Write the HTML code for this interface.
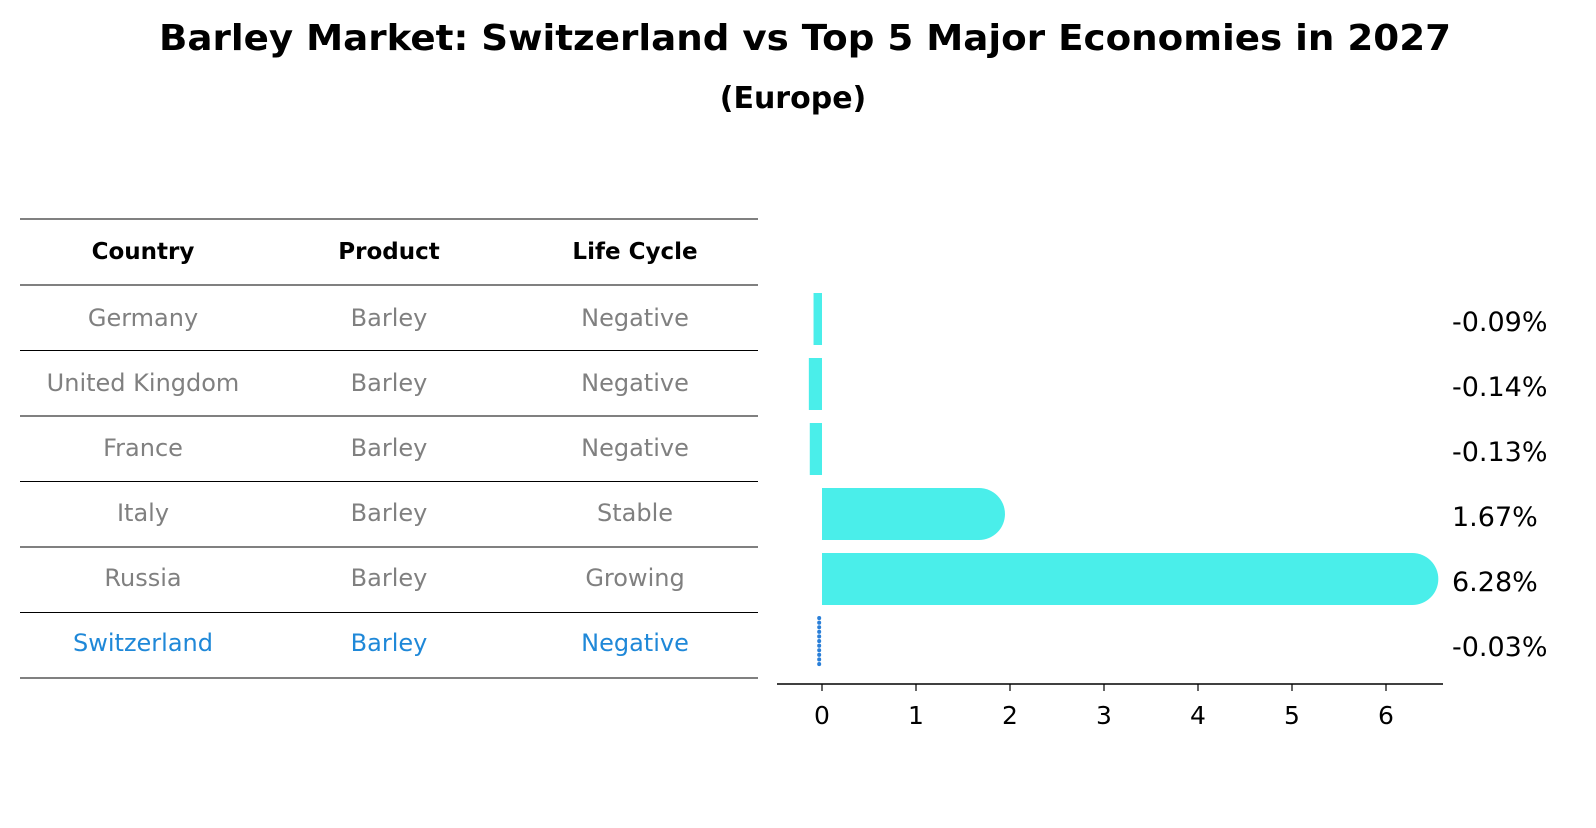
<!DOCTYPE html>
<html><head><meta charset="utf-8"><style>
body{margin:0;background:#fff;}
svg text{font-family:"DejaVu Sans","Liberation Sans",sans-serif;}
</style></head><body>
<svg id="chart" width="1596" height="823" viewBox="0 0 1596 823" xmlns="http://www.w3.org/2000/svg">
<rect width="1596" height="823" fill="#fff"/>
<text x="805" y="50" text-anchor="middle" font-size="36" font-weight="bold" textLength="1292" lengthAdjust="spacingAndGlyphs">Barley Market: Switzerland vs Top 5 Major Economies in 2027</text>
<text x="793" y="108" text-anchor="middle" font-size="30" font-weight="bold">(Europe)</text>
<g id="table"></g>
<g id="bars"></g>
<g id="axis"></g>
</svg>
<script>
const countries=["Germany","United Kingdom","France","Italy","Russia","Switzerland"];
const products=["Barley","Barley","Barley","Barley","Barley","Barley"];
const lifeCycles=["Negative","Negative","Negative","Stable","Growing","Negative"];
const growthValues=[-0.09,-0.14,-0.13,1.67,6.28,-0.03];
const xTicks=[0,1,2,3,4,5,6];
const headers=["Country","Product","Life Cycle"];

const NS="http://www.w3.org/2000/svg";
function mk(tag,attrs,parent){const e=document.createElementNS(NS,tag);for(const k in attrs)e.setAttribute(k,attrs[k]);parent.appendChild(e);return e;}
const xScale=v=>822+v*94;
const rowY=i=>318+i*65;
const tbl=document.getElementById('table');
const colX=[143,389,635];
for(let i=0;i<countries.length+2;i++){
  const y=i===0?219:285+(i-1)*65.5;
  const l=mk('line',{x1:20,x2:758,y1:y,y2:y,stroke:'#000','stroke-width':1},tbl);
  
  
}
headers.forEach((h,j)=>{
  const t=mk('text',{x:colX[j],y:259,'text-anchor':'middle','font-size':23,'font-weight':'bold'},tbl);
  t.textContent=h;
  
  
});
countries.forEach((c,i)=>{
  const y=rowY(i)+8;
  const col=i===countries.length-1?'#1f88d8':'#808080';
  [c,products[i],lifeCycles[i]].forEach((v,j)=>{
    const t=mk('text',{x:colX[j],y:y,'text-anchor':'middle','font-size':24,fill:col},tbl);
    t.textContent=v;
    
    
  });
});
const bars=document.getElementById('bars');
growthValues.forEach((v,i)=>{
  const cy=rowY(i)+1;
  const last=i===growthValues.length-1;
  if(last){
    const l=mk('line',{x1:xScale(v),x2:xScale(v),y1:cy-26,y2:cy+22,stroke:'#2a7fd8','stroke-width':4,'stroke-dasharray':'0.1 4.5','stroke-linecap':'round'},bars);
    
    
  } else {
    const x0=Math.min(xScale(0),xScale(v)),w=Math.abs(xScale(v)-xScale(0));
    const r=mk('rect',{x:x0,y:cy-26,width:w,height:52,fill:'#4aeeea'},bars);
    
    
    if(v>0.5){
      const cap=mk('circle',{cx:xScale(v),cy:cy,r:26,fill:'#4aeeea'},bars);
      
      
    }
  }
  const t=mk('text',{x:1452,y:cy+12,'font-size':27},bars);
  t.textContent=v.toFixed(2)+'%';
  
  
});
const ax=document.getElementById('axis');
const al=mk('line',{x1:777,x2:1443,y1:684,y2:684,stroke:'#000','stroke-width':1.5},ax);


xTicks.forEach(v=>{
  const tk=mk('line',{x1:xScale(v),x2:xScale(v),y1:684,y2:691,stroke:'#000','stroke-width':1.2},ax);
  
  
  const t=mk('text',{x:xScale(v),y:724,'text-anchor':'middle','font-size':25},ax);
  t.textContent=v;
  
  
});
</script>
</body></html>
